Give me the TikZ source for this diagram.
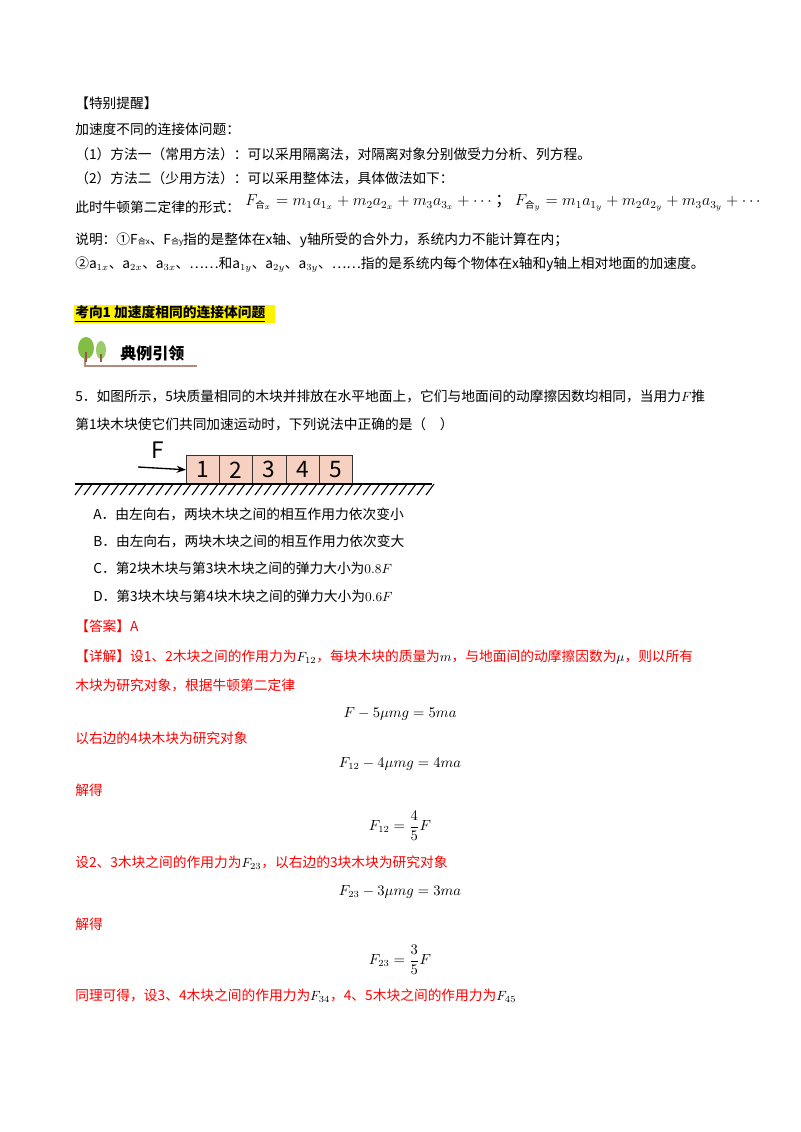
\documentclass[tikz,border=0pt]{standalone}
\usepackage[no-math]{fontspec}
\usetikzlibrary{arrows.meta}
\setmainfont{Noto Sans CJK SC}
\newfontfamily\cjk{Noto Sans CJK SC}
\definecolor{blockfill}{RGB}{246,208,192}
\definecolor{redtxt}{RGB}{255,0,0}
\definecolor{leafgreen}{RGB}{130,190,70}
\definecolor{trunk}{RGB}{150,90,70}
\begin{document}
\begin{tikzpicture}[x=0.75pt,y=-0.75pt,
  t/.style={anchor=west,inner sep=0pt,font=\fontsize{10.3}{12}\selectfont},
  rt/.style={t,text=redtxt},
  eq/.style={anchor=center,inner sep=0pt,font=\fontsize{10.5}{12}\selectfont},
  blk/.style={draw=black!80,fill=blockfill,minimum width=33.2*0.75pt,minimum height=29*0.75pt,inner sep=0pt,anchor=north west,font=\fontsize{17}{18}\selectfont\rmfamily}]
\useasboundingbox (0,0) rectangle (800,1132);
\node[t] (l1) at (75,103) {【特别提醒】};
\node[t] (l2) at (75,129) {加速度不同的连接体问题：};
\node[t] (l3) at (75,154) {（1）方法一（常用方法）：可以采用隔离法，对隔离对象分别做受力分析、列方程。};
\node[t] (l4) at (75,178) {（2）方法二（少用方法）：可以采用整体法，具体做法如下：};
\node[t] (l5) at (75,207) {此时牛顿第二定律的形式：};
\node[t,font=\fontsize{12}{14}\selectfont] (f1) at (245,203) {$F_{\mbox{\fontsize{7}{8}\selectfont\cjk 合}_x}=m_1a_{1_x}+m_2a_{2_x}+m_3a_{3_x}+\cdots$\ ；\ $F_{\mbox{\fontsize{7}{8}\selectfont\cjk 合}_y}=m_1a_{1_y}+m_2a_{2_y}+m_3a_{3_y}+\cdots$};
\node[t] (l6) at (75,240) {说明：①{\itshape F}{\fontsize{6}{7}\selectfont 合\textit{x}}、{\itshape F}{\fontsize{6}{7}\selectfont 合\textit{y}}指的是整体在x轴、y轴所受的合外力，系统内力不能计算在内；};
\node[t] (l7) at (75,265) {②a$_{1x}$、a$_{2x}$、a$_{3x}$、……和a$_{1y}$、a$_{2y}$、a$_{3y}$、……指的是系统内每个物体在x轴和y轴上相对地面的加速度。};
\fill[yellow] (74,305) rectangle (275,323);
\node[t,font=\fontsize{10.3}{12}\selectfont\bfseries] (k1) at (75,314) {\underline{考向1\ 加速度相同的连接体问题}};
% banner
\draw[trunk!70,line width=0.8pt] (85,340) -- (85,366) -- (197,366);
\fill[leafgreen] (86,348) ellipse (8 and 11);
\draw[trunk,line width=1.2pt] (86,352) -- (86,362);
\fill[leafgreen!80] (101,350) ellipse (5 and 9);
\draw[trunk,line width=1pt] (101,354) -- (101,362);
\node[t,font=\fontsize{12}{14}\selectfont\bfseries] (b1) at (120,353) {典例引领};
\node[t] (q1) at (75,396) {5．如图所示，5块质量相同的木块并排放在水平地面上，它们与地面间的动摩擦因数均相同，当用力$F$推};
\node[t] (q2) at (75,424) {第1块木块使它们共同加速运动时，下列说法中正确的是（\quad ）};
% diagram
\foreach \i in {1,...,5}{\node[blk] (bk\i) at ({186+33.2*(\i-1)},455) {\i};}
\coordinate (g1) at (75,484); \coordinate (g2) at (432,484);
\draw[line width=1pt] (g1) -- (g2);
\foreach \x in {75,84,...,430}{\draw[line width=0.8pt] (\x+8,484) -- (\x,495);}
\coordinate (fa) at (138,467);
\draw[-{Stealth[length=7pt]},line width=1pt] (fa) -- (bk1.west);
\node[inner sep=0pt,font=\fontsize{17}{18}\selectfont\rmfamily\itshape] (Fl) at (158,450) {F};
\node[t] (oa) at (93,514) {A．由左向右，两块木块之间的相互作用力依次变小};
\node[t] (ob) at (93,541) {B．由左向右，两块木块之间的相互作用力依次变大};
\node[t] (oc) at (93,568) {C．第2块木块与第3块木块之间的弹力大小为$0.8F$};
\node[t] (od) at (93,596) {D．第3块木块与第4块木块之间的弹力大小为$0.6F$};
\node[rt] (ans) at (75,626) {【答案】A};
\node[rt] (d1) at (75,657) {【详解】设1、2木块之间的作用力为\textcolor{black}{$F_{12}$}，每块木块的质量为\textcolor{black}{$m$}，与地面间的动摩擦因数为\textcolor{black}{$\mu$}，则以所有};
\node[rt] (d2) at (75,685) {木块为研究对象，根据牛顿第二定律};
\node[eq] (e1) at (400,714) {$F-5\mu mg=5ma$};
\node[rt] (d3) at (75,738) {以右边的4块木块为研究对象};
\node[eq] (e2) at (400,764) {$F_{12}-4\mu mg=4ma$};
\node[rt] (d4) at (75,790) {解得};
\node[eq] (e3) at (400,826) {$\displaystyle F_{12}=\frac{4}{5}F$};
\node[rt] (d5) at (75,863) {设2、3木块之间的作用力为\textcolor{black}{$F_{23}$}，以右边的3块木块为研究对象};
\node[eq] (e4) at (400,892) {$F_{23}-3\mu mg=3ma$};
\node[rt] (d6) at (75,924) {解得};
\node[eq] (e5) at (400,960) {$\displaystyle F_{23}=\frac{3}{5}F$};
\node[rt] (d7) at (75,996) {同理可得，设3、4木块之间的作用力为\textcolor{black}{$F_{34}$}，4、5木块之间的作用力为\textcolor{black}{$F_{45}$}};
\end{tikzpicture}
\end{document}
